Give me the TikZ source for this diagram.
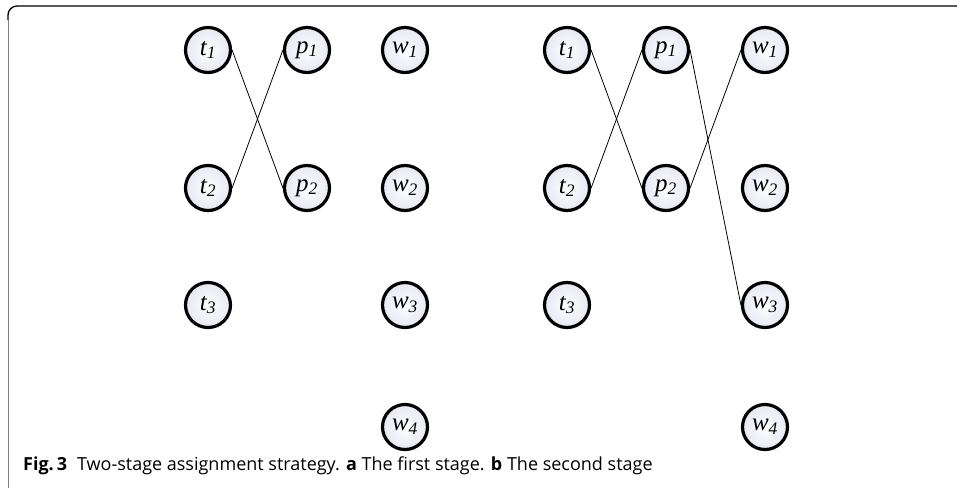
\documentclass[tikz,border=0pt]{standalone}
\usepackage{fontspec}
\setmainfont{Liberation Serif}
\newfontfamily\capfont{Open Sans}
\begin{document}
\begin{tikzpicture}[x=1pt,y=-1pt,
  vert/.style={circle,draw=black,line width=3.2pt,minimum size=45pt,inner sep=0pt,
    inner color=white,outer color={rgb,255:red,230;green,232;blue,243},
    font=\fontsize{25}{26}\selectfont\itshape},
  link/.style={line width=0.8pt,black}]
\useasboundingbox (0,0) rectangle (957,488);
% frame
\draw[line width=0.8pt,gray] (8,488) -- (8,20);
\draw[line width=1.3pt,black,rounded corners=9pt] (8,20) -- (8,6) -- (957,6);
% stage a
\node[vert] (at1) at (208,50) {t\textsubscript{1}};
\node[vert] (ap1) at (307,50) {p\textsubscript{1}};
\node[vert] (aw1) at (405,50) {w\textsubscript{1}};
\node[vert] (at2) at (208,188) {t\textsubscript{2}};
\node[vert] (ap2) at (307,188) {p\textsubscript{2}};
\node[vert] (aw2) at (405,188) {w\textsubscript{2}};
\node[vert] (at3) at (208,305) {t\textsubscript{3}};
\node[vert] (aw3) at (405,305) {w\textsubscript{3}};
\node[vert] (aw4) at (405,427) {w\textsubscript{4}};
\draw[link] (at1.east) -- (ap2.west);
\draw[link] (at2.east) -- (ap1.west);
% stage b
\node[vert] (bt1) at (567,50) {t\textsubscript{1}};
\node[vert] (bp1) at (666,50) {p\textsubscript{1}};
\node[vert] (bw1) at (765,50) {w\textsubscript{1}};
\node[vert] (bt2) at (567,188) {t\textsubscript{2}};
\node[vert] (bp2) at (666,188) {p\textsubscript{2}};
\node[vert] (bw2) at (765,188) {w\textsubscript{2}};
\node[vert] (bt3) at (567,305) {t\textsubscript{3}};
\node[vert] (bw3) at (765,305) {w\textsubscript{3}};
\node[vert] (bw4) at (765,427) {w\textsubscript{4}};
\draw[link] (bt1.east) -- (bp2.west);
\draw[link] (bt2.east) -- (bp1.west);
\draw[link] (bp2.east) -- (bw1.west);
\draw[link] (bp1.east) -- (bw3.west);
% caption
\node[anchor=base west,inner sep=0pt,font=\capfont\fontsize{18}{20}\selectfont] (cap) at (23,470)
  {\textbf{Fig.\,3}\hspace{0.55em}Two-stage assignment strategy. \textbf{a} The first stage. \textbf{b} The second stage};
\end{tikzpicture}
\end{document}
